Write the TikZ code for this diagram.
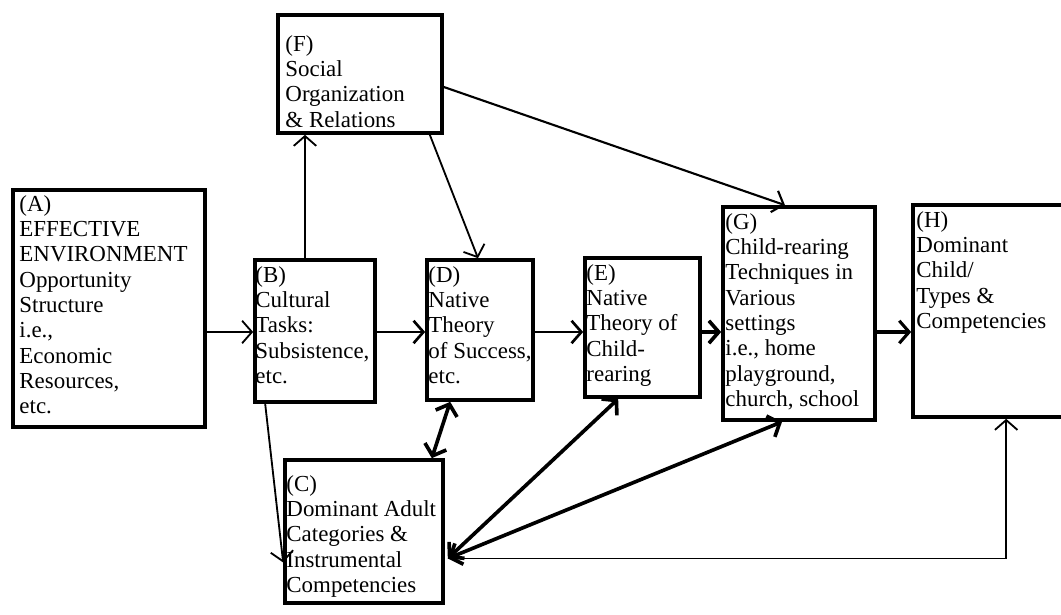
\documentclass[tikz,border=0pt]{standalone}
\usepackage{fontspec}
\setmainfont{Liberation Serif}
\usepackage{tikz}
\usetikzlibrary{arrows.meta}
\usetikzlibrary{calc}
\tikzset{
  frame/.style args={#1/#2}{rectangle, draw=black, line width=2.6pt, inner sep=0pt,
                minimum width=#1*0.025cm, minimum height=#2*0.025cm},
  boxtext/.style={anchor=north west, inner sep=0pt, align=left,
                font=\fontsize{16.3pt}{18pt}\selectfont},
  arr/.style={-{Straight Barb[length=7pt, width=16pt]}, line width=#1},
  arr/.default=1.3pt,
  darr/.style={{Straight Barb[length=7pt, width=16pt]}-{Straight Barb[length=7pt, width=16pt]},
                line width=#1},
  darr/.default=2.6pt}

\begin{document}
\begin{tikzpicture}[x=0.025cm, y=-0.025cm]
  \useasboundingbox (0,0) rectangle (1061,615);
  \clip (0,0) rectangle (1061,615);
  % boxes: name / centre / size, in pixels of the scan
  \foreach \n/\x/\y/\w/\h in {A/109/308.5/192/237, B/315/331/120/142, D/480/330/106/140,
      E/642.5/327.5/115/139, C/364/531.5/158/143, F/360/74/164/118,
      G/799/313.5/152/213, H/994/311/162/212}{
    \node[frame={\w/\h}] (\n) at (\x,\y) {};}
  % texts, set in at the top left of each box
  \node[boxtext] (At) at ($(A.north west)+(8,7)$) {(A)\\EFFECTIVE\\ENVIRONMENT\\Opportunity\\Structure\\i.e.,\\Economic\\Resources,\\etc.};
  \node[boxtext] (Bt) at ($(B.north west)+(2,8)$) {(B)\\Cultural\\Tasks:\\Subsistence,\\etc.};
  \node[boxtext] (Dt) at ($(D.north west)+(3,8)$) {(D)\\Native\\Theory\\of Success,\\etc.};
  \node[boxtext] (Et) at ($(E.north west)+(3,8)$) {(E)\\Native\\Theory of\\Child-\\rearing};
  \node[boxtext] (Ct) at ($(C.north west)+(3,17)$) {(C)\\Dominant Adult\\Categories \&\\Instrumental\\Competencies};
  \node[boxtext] (Ft) at ($(F.north west)+(9,22)$) {(F)\\Social\\Organization\\\& Relations};
  \node[boxtext] (Gt) at ($(G.north west)+(4,8)$) {(G)\\Child-rearing\\Techniques in\\Various\\settings\\i.e., home\\playground,\\church, school};
  \node[boxtext] (Ht) at ($(H.north west)+(5,8)$) {(H)\\Dominant\\Child/\\Types \&\\Competencies};
  % the main row, left to right at one height
  \coordinate (row) at (0,332);
  \foreach \a/\b/\lw in {A/B/1.3pt, B/D/1.9pt, D/E/1.9pt, E/G/2.6pt, G/H/2.2pt}{
    \draw[arr=\lw] (\a.east |- row) -- (\b.west |- row);}
  % up to F and down from it
  \coordinate (bf) at ($(B.north)+(-10,0)$);
  \draw[arr] (bf) -- (bf |- F.south);
  \draw[arr] ($(F.south east)+(-14,0)$) -- ($(D.north)+(-2,0)$);
  \draw[arr=1.5pt] ($(F.east)+(0,13)$) -- ($(G.north)+(-14,0)$);
  % down to C
  \draw[arr] ($(B.south west)+(12,0)$) -- ($(C.west)+(0,31)$);
  \draw[darr] ($(D.south west)+(25,0)$) -- ($(C.north east)+(-13,0)$);
  % back into C from the right
  \coordinate (hub) at ($(C.east)+(3,27)$);
  \draw[darr] (hub) -- ($(E.south west)+(35,0)$);
  \draw[darr] (hub) -- ($(G.south)+(-17,0)$);
  \coordinate (hup) at ($(H.south west)+(95,0)$);
  \draw[arr] (hub) -| (hup);
\end{tikzpicture}
\end{document}
